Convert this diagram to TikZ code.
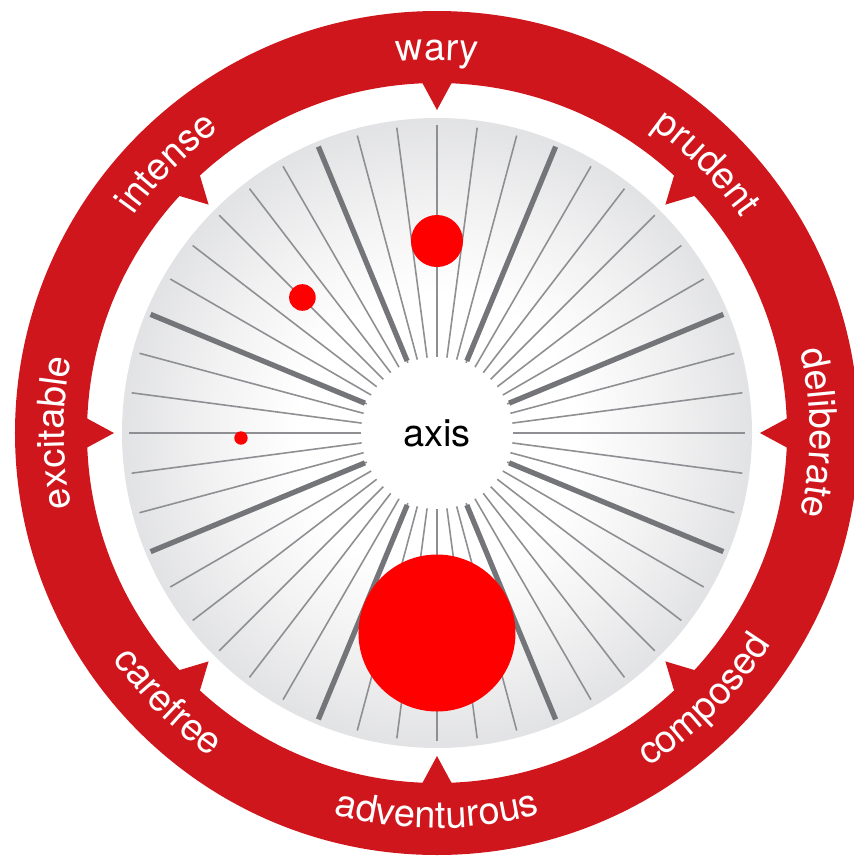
\documentclass[tikz,border=0pt]{standalone}
\usepackage{fontspec}
\setmainfont{TeX Gyre Heros}
\usetikzlibrary{decorations.text}

\definecolor{ringred}{HTML}{D0161D}
\definecolor{dotred}{HTML}{FF0000}
\definecolor{spokegray}{HTML}{8E8F92}
\definecolor{keygray}{HTML}{747578}
\definecolor{softgray}{HTML}{F2F2F3}
\definecolor{midgray}{HTML}{D2D3D5}
\definecolor{deepgray}{HTML}{B3B4B7}
\definecolor{rimgray}{HTML}{95979B}
\pgfdeclareradialshading{dialshade}{\pgfpoint{0bp}{0bp}}{color(0bp)=(white); color(11bp)=(white); color(18bp)=(softgray); color(32bp)=(midgray); color(44bp)=(deepgray); color(50bp)=(rimgray); color(60bp)=(rimgray)}
\newcommand{\labelfont}{\fontsize{10.8}{13}\selectfont}

\begin{document}
\begin{tikzpicture}[
  thinspoke/.style={spokegray,line width=0.45pt},
  keyspoke/.style={keygray,line width=1.5pt},
  reddot/.style={circle,fill=dotred,inner sep=0pt,minimum size=#1},
  ringlabel/.style={decorate,decoration={text along path,text align=center,
    text={|\labelfont\color{white}|#1}}}
]
  \useasboundingbox (-4.37,-4.23) rectangle (4.17,4.33);
  \clip (-4.37,-4.23) rectangle (4.17,4.33);

  % red ring with its pointers
  \fill[ringred,even odd rule] (0,0) circle (4.22) (0,0) circle (3.5);
  \foreach \a in {0,45,...,315}
    \fill[ringred] (\a-2.6:3.53) -- (\a:3.23) -- (\a+2.6:3.53) -- cycle;

  % dial
  \shade[shading=dialshade] (0,0) circle (3.15);
  \foreach \a in {0,7.5,...,352.5}
    \draw[thinspoke] (\a:0.76) -- (\a:3.08);
  \foreach \a in {22.5,67.5,...,337.5}
    \draw[keyspoke] (\a:0.78) -- (\a:3.1);
  \fill[white] (0,0) circle (0.72);
  \node[font=\labelfont] (axis) at (0,0) {axis};

  % dots
  \node[reddot=1.57cm] (big) at (0,-2.0) {};
  \node[reddot=0.52cm] (mid) at (0,1.92) {};
  \node[reddot=0.266cm] (small) at (134.8:1.91) {};
  \node[reddot=0.134cm] (tiny) at (-1.96,-0.05) {};

  % labels on the ring
  \path[ringlabel=wary] (115:3.73) arc[start angle=115,end angle=65,radius=3.73];
  \path[ringlabel=prudent] (70:3.73) arc[start angle=70,end angle=20,radius=3.73];
  \path[ringlabel=deliberate] (25:3.73) arc[start angle=25,end angle=-25,radius=3.73];
  \path[ringlabel=intense] (160:3.73) arc[start angle=160,end angle=110,radius=3.73];
  \path[ringlabel=excitable] (205:3.73) arc[start angle=205,end angle=155,radius=3.73];
  \path[ringlabel=composed] (-70:3.95) arc[start angle=-70,end angle=-20,radius=3.95];
  \path[ringlabel=adventurous] (-115:3.95) arc[start angle=-115,end angle=-65,radius=3.95];
  \path[ringlabel=carefree] (-160:3.95) arc[start angle=-160,end angle=-110,radius=3.95];
\end{tikzpicture}
\end{document}
